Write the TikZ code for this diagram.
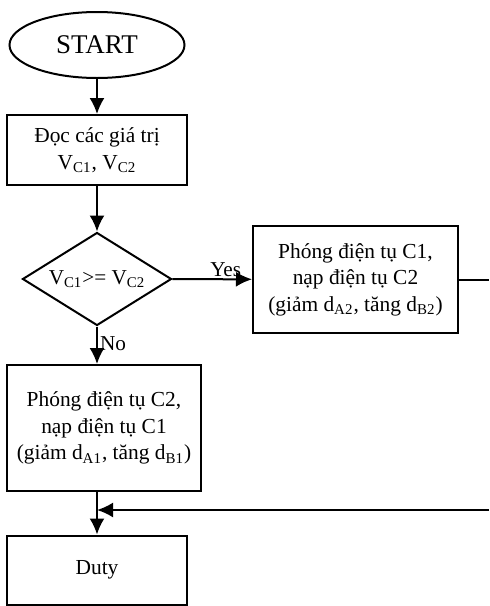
\documentclass[tikz,border=0pt]{standalone}
\usepackage{fontspec}
\setmainfont{Liberation Serif}
\usetikzlibrary{shapes,arrows,arrows.meta}
\begin{document}
\begin{tikzpicture}[x=0.5pt,y=-0.5pt]
	\tikzset{fleche/.style={-{Latex[length=8pt,width=7.5pt]}, line width=1pt},
		trait/.style={line width=1pt},
		etiq/.style={font=\fontsize{10.6}{12}\selectfont, inner sep=1pt},
		boite/.style={draw, line width=1pt, rectangle, align=center, inner sep=0pt, font=\fontsize{10.7}{13.3}\selectfont},
		losange/.style={draw, line width=1pt, diamond, inner sep=0pt},
		debut/.style={draw, line width=1pt, ellipse, inner sep=0pt, font=\fontsize{13.5}{15}\selectfont}};
	\useasboundingbox (0,0) rectangle (489,606);
	\node [debut, minimum width=87.5pt, minimum height=33pt] (start) at (97,45) {START};
	\node [boite, minimum width=90pt, minimum height=35pt] (read) at (97,150) {Đọc các giá trị\\V\textsubscript{C1}, V\textsubscript{C2}};
	\node [losange, minimum width=74.5pt, minimum height=46.5pt, label={[etiq]center:V\textsubscript{C1}>= V\textsubscript{C2}}] (cmp) at (97,279) {};
	\node [boite, minimum width=102.5pt, minimum height=53.5pt] (dis1) at (355.5,279.5) {Phóng điện tụ C1,\\nạp điện tụ C2\\(giảm d\textsubscript{A2}, tăng d\textsubscript{B2})};
	\node [boite, minimum width=97pt, minimum height=63pt] (dis2) at (104,428) {Phóng điện tụ C2,\\nạp điện tụ C1\\(giảm d\textsubscript{A1}, tăng d\textsubscript{B1})};
	\node [boite, minimum width=90pt, minimum height=34.5pt] (duty) at (97,570) {Duty};
	\coordinate (sortie) at (489,279.5);
	\coordinate (retour) at (489,510);
	\coordinate (jonction) at (97,510);
	\draw[fleche] (start) -- (read);
	\draw[fleche] (read) -- (cmp);
	\draw[fleche] (cmp) -- node[etiq, pos=0.67, above] {Yes} (dis1);
	\draw[fleche] (cmp.south) -- node[etiq, right, pos=0.45] {No} (cmp.south |- dis2.north);
	\draw[trait] (dis1.east) -- (sortie);
	\draw[fleche] (cmp.south |- dis2.south) -- (duty);
	\draw[fleche] (retour) -- (jonction);
\end{tikzpicture}
\end{document}
